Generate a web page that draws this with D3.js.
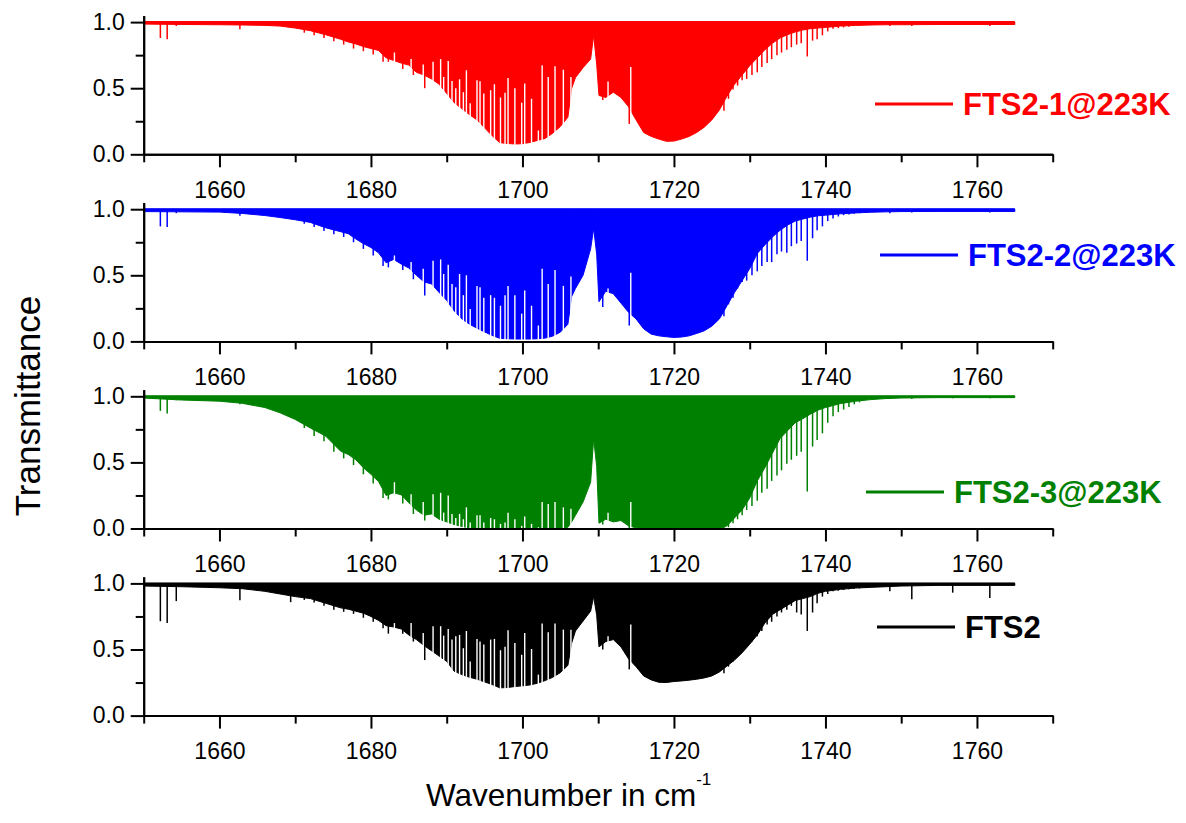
<!DOCTYPE html>
<html>
<head>
<meta charset="utf-8">
<script src="https://cdn.jsdelivr.net/npm/d3@7/dist/d3.min.js"></script>
<style>
  body { margin: 0; background: #ffffff; }
  text { font-family: "Liberation Sans", Arial, sans-serif; }
</style>
</head>
<body>
<div id="chart"></div>
<script>
// wavenumber grid (cm-1) on which the lower envelope of each spectrum was read
var waveGrid = [1650,1655,1660,1663,1666,1668,1670,1672,1674,1676,
  1677,1678,1679,1680,1681,1682,1683,1684,1685,1686,
  1687,1688,1689,1690,1691,1692,1693,1694,1695,1696,
  1697,1698,1699,1700,1701,1702,1703,1704,1705,1706,
  1706.5,1707,1708,1709,1709.4,1709.8,1710.1,1711,1712,1713,
  1714,1715,1716,1717,1718,1719,1720,1721,1722,1723,
  1724,1725,1726,1727,1728,1729,1730,1731,1732,1733,
  1734,1735,1736,1737,1738,1739,1740,1742,1744,1746,
  1748,1750,1755,1760,1765];

// lower envelope (transmittance) of every spectrum
var envelopeFts21 = [0.985,0.982,0.98,0.978,0.975,0.97,0.955,0.935,0.905,0.87,
  0.85,0.835,0.815,0.80,0.785,0.73,0.71,0.69,0.675,0.62,
  0.60,0.57,0.53,0.46,0.39,0.345,0.30,0.26,0.20,0.14,
  0.088,0.082,0.078,0.08,0.09,0.105,0.12,0.16,0.21,0.28,
  0.50,0.58,0.655,0.72,0.90,0.68,0.445,0.43,0.47,0.43,
  0.36,0.26,0.165,0.135,0.115,0.098,0.10,0.115,0.135,0.165,
  0.205,0.26,0.335,0.44,0.53,0.60,0.67,0.73,0.79,0.84,
  0.88,0.905,0.925,0.94,0.95,0.955,0.96,0.97,0.975,0.978,
  0.98,0.98,0.982,0.982,0.982];
var envelopeFts22 = [0.982,0.98,0.978,0.968,0.952,0.937,0.92,0.90,0.86,0.83,
  0.815,0.775,0.74,0.71,0.67,0.595,0.62,0.585,0.555,0.50,
  0.45,0.435,0.37,0.31,0.23,0.17,0.13,0.10,0.072,0.045,
  0.023,0.02,0.018,0.018,0.018,0.02,0.025,0.04,0.07,0.13,
  0.34,0.40,0.50,0.70,0.855,0.66,0.30,0.38,0.36,0.29,
  0.22,0.17,0.095,0.055,0.042,0.035,0.03,0.033,0.042,0.06,
  0.08,0.115,0.17,0.27,0.37,0.46,0.55,0.665,0.73,0.79,
  0.84,0.88,0.91,0.925,0.94,0.95,0.955,0.965,0.972,0.977,
  0.98,0.982,0.983,0.983,0.983];
var envelopeFts23 = [0.987,0.972,0.963,0.947,0.915,0.875,0.825,0.76,0.70,0.585,
  0.56,0.52,0.46,0.41,0.355,0.25,0.27,0.255,0.195,0.14,
  0.10,0.11,0.07,0.05,0.03,0.015,0.005,0,0,0,
  0,0,0,0,0,0,0,0,0,0.01,
  0.05,0.10,0.20,0.35,0.68,0.47,0.04,0.07,0.05,0.06,
  0.02,0.005,0,0,0,0,0,0,0,0,
  0,0,0,0.02,0.08,0.14,0.23,0.36,0.46,0.57,
  0.68,0.74,0.80,0.83,0.865,0.895,0.915,0.945,0.963,0.975,
  0.983,0.987,0.99,0.99,0.99];
var envelopeFts2 = [0.98,0.975,0.967,0.96,0.94,0.92,0.90,0.885,0.85,0.815,
  0.805,0.79,0.775,0.75,0.72,0.68,0.67,0.655,0.61,0.575,
  0.53,0.49,0.45,0.41,0.335,0.31,0.29,0.275,0.255,0.235,
  0.21,0.212,0.22,0.225,0.232,0.245,0.265,0.29,0.325,0.38,
  0.55,0.64,0.715,0.79,0.90,0.76,0.52,0.56,0.575,0.52,
  0.43,0.37,0.30,0.27,0.252,0.25,0.258,0.262,0.268,0.275,
  0.285,0.30,0.33,0.375,0.42,0.475,0.54,0.61,0.70,0.765,
  0.80,0.835,0.87,0.885,0.90,0.925,0.94,0.955,0.965,0.97,
  0.975,0.98,0.985,0.985,0.985];

// narrow windows between lines (white stripes): position and transmittance reached
var gapWavenumbers = [1683.1,1685.3,1686.9,1688.2,1689.2,1689.6,1690.2,1690.7,1691.2,1691.7,
  1692.2,1692.6,1693.1,1694.0,1694.4,1694.9,1695.8,1696.3,1697.1,1697.7,
  1698.1,1699.0,1699.9,1700.3,1701.2,1702.1,1702.6,1703.4,1704.3,1705.4,
  1706.4,1711.3,1714.3];
var gapTopsFts21 = [0.77,0.72,0.68,0.70,0.72,0.585,0.706,0.555,0.50,0.568,
  0.47,0.636,0.387,0.56,0.553,0.46,0.485,0.53,0.43,0.465,
  0.578,0.50,0.39,0.535,0.42,0.18,0.673,0.585,0.666,0.64,
  0.585,0.55,0.66];
var gapTopsFts22 = [0.65,0.60,0.55,0.61,0.62,0.51,0.58,0.435,0.41,0.51,
  0.35,0.50,0.245,0.42,0.41,0.33,0.35,0.33,0.27,0.35,
  0.42,0.35,0.21,0.385,0.27,0.12,0.55,0.435,0.54,0.42,
  0.49,0.40,0.52];
var gapTopsFts23 = [0.35,0.26,0.20,0.26,0.27,0.12,0.25,0.11,0.08,0.11,
  0.07,0.16,0.046,0.10,0.10,0.046,0.08,0.07,0.035,0.046,
  0.12,0.07,0.02,0.09,0.035,0.01,0.20,0.186,0.20,0.16,
  0.15,0.12,0.20];
var gapTopsFts2 = [0.70,0.70,0.625,0.676,0.676,0.605,0.656,0.575,0.60,0.61,
  0.51,0.64,0.41,0.58,0.56,0.537,0.575,0.58,0.494,0.52,
  0.646,0.55,0.46,0.625,0.504,0.31,0.696,0.63,0.696,0.65,
  0.65,0.60,0.69];

// single absorption lines standing out of the envelope: position and depth
var lineWavenumbers = [1652.2,1653.1,1654.3,1662.7,1669.4,1671.2,1672.5,1673.8,1675.1,1676.4,
  1677.7,1679.0,1680.3,1681.6,1682.3,1684.2,1685.6,1687.1,1710.6,1714.1,
  1726.6,1727.2,1727.8,1728.4,1729.0,1729.6,1730.3,1731.0,1731.6,1732.3,
  1732.9,1733.6,1734.2,1734.9,1735.5,1736.2,1736.8,1737.6,1738.3,1738.9,
  1739.6,1740.3,1741.0,1741.7,1742.4,1743.1,1743.8,1744.5,1748.5,1751.4,
  1756.8,1761.7];
var lineDepthsFts21 = [0.88,0.87,0.97,0.945,0.96,0.92,0.90,0.88,0.855,0.83,
  0.80,0.78,0.755,0.70,0.70,0.645,0.60,0.50,0.41,0.23,
  0.33,0.42,0.49,0.52,0.56,0.57,0.60,0.62,0.66,0.69,
  0.72,0.75,0.77,0.79,0.81,0.83,0.84,0.74,0.86,0.87,
  0.90,0.93,0.95,0.955,0.96,0.965,0.97,0.972,0.97,0.97,
  0.98,0.97];
var lineDepthsFts22 = [0.87,0.865,0.97,0.95,0.95,0.89,0.865,0.835,0.81,0.79,
  0.75,0.70,0.65,0.57,0.56,0.54,0.47,0.347,0.26,0.12,
  0.19,0.28,0.33,0.40,0.45,0.46,0.50,0.53,0.57,0.60,
  0.60,0.66,0.68,0.67,0.72,0.74,0.76,0.61,0.78,0.84,
  0.87,0.91,0.93,0.945,0.955,0.96,0.965,0.97,0.97,0.975,
  0.98,0.975];
var lineDepthsFts23 = [0.89,0.87,0.97,0.94,0.84,0.76,0.70,0.66,0.58,0.53,
  0.48,0.41,0.34,0.23,0.22,0.19,0.11,0.06,0.03,0.0,
  0.0,0.01,0.04,0.07,0.10,0.14,0.17,0.21,0.27,0.30,
  0.36,0.40,0.44,0.49,0.52,0.55,0.58,0.28,0.62,0.67,
  0.72,0.80,0.85,0.88,0.90,0.92,0.94,0.955,0.98,0.98,
  0.985,0.985];
var lineDepthsFts2 = [0.714,0.70,0.866,0.873,0.858,0.875,0.855,0.83,0.80,0.785,
  0.77,0.74,0.71,0.66,0.62,0.62,0.56,0.42,0.50,0.35,
  0.32,0.37,0.41,0.45,0.49,0.52,0.56,0.60,0.64,0.69,
  0.71,0.75,0.78,0.80,0.83,0.78,0.765,0.64,0.78,0.85,
  0.90,0.92,0.94,0.945,0.95,0.955,0.96,0.962,0.94,0.88,
  0.93,0.89];

var seriesNames = ["FTS2-1@223K", "FTS2-2@223K", "FTS2-3@223K", "FTS2"];
var seriesColors = ["#ff0000", "#0000ff", "#008000", "#000000"];
var xMajorTicks = [1660, 1680, 1700, 1720, 1740, 1760];
var xMinorTicks = [1650, 1670, 1690, 1710, 1730, 1750, 1770];
var yMajorTicks = [0.0, 0.5, 1.0];
var yMinorTicks = [0.25, 0.75];

var envelopes = [envelopeFts21, envelopeFts22, envelopeFts23, envelopeFts2];
var gapTops = [gapTopsFts21, gapTopsFts22, gapTopsFts23, gapTopsFts2];
var lineDepths = [lineDepthsFts21, lineDepthsFts22, lineDepthsFts23, lineDepthsFts2];

// layout
var svgWidth = 1186, svgHeight = 823;
var panelBottom = [154.3, 341.4, 528.5, 715.6];
var unitHeight = 132.2;
var legendPos = [{x: 875, y: 104}, {x: 880, y: 255}, {x: 866, y: 492}, {x: 877, y: 627}];

var svg = d3.select("#chart").append("svg")
    .attr("width", svgWidth)
    .attr("height", svgHeight);

var x = d3.scaleLinear().domain([1650, 1770]).range([143.7, 1052.7]);

/**
 * draws one stacked panel: spectrum, axes and legend entry
 */
function drawPanel(i) {
    var color = seriesColors[i];
    var bottom = panelBottom[i];
    var y = d3.scaleLinear().domain([0, 1.05]).range([bottom, bottom - 1.05 * unitHeight]);
    var g = svg.append("g").attr("class", "panel");

    var pts = waveGrid.map(function (w, j) { return [w, envelopes[i][j]]; });

    // filled band between 100% and the line minima
    var area = d3.area()
        .x(function (d) { return x(d[0]); })
        .y0(y(1.0))
        .y1(function (d) { return y(d[1]); });
    g.append("path").datum(pts)
        .attr("d", area)
        .attr("fill", color)
        .attr("stroke", color)
        .attr("stroke-width", 1);

    // baseline trace at 1.0
    g.append("line")
        .attr("x1", x(1650)).attr("x2", x(1765))
        .attr("y1", y(1.0)).attr("y2", y(1.0))
        .attr("stroke", color).attr("stroke-width", 2);

    // windows between lines
    g.selectAll("line.gap").data(gapWavenumbers).enter()
        .append("line")
        .attr("class", "gap")
        .attr("x1", function (d) { return x(d); })
        .attr("x2", function (d) { return x(d); })
        .attr("y1", function (d, j) { return y(gapTops[i][j]); })
        .attr("y2", y(0))
        .attr("stroke", "#ffffff")
        .attr("stroke-width", 1.4);

    // strong single lines
    g.selectAll("line.spike").data(lineWavenumbers).enter()
        .append("line")
        .attr("class", "spike")
        .attr("x1", function (d) { return x(d); })
        .attr("x2", function (d) { return x(d); })
        .attr("y1", y(1.0))
        .attr("y2", function (d, j) { return y(lineDepths[i][j]); })
        .attr("stroke", color)
        .attr("stroke-width", 1.5);

    // axes
    g.append("g").attr("transform", "translate(0," + y(0) + ")")
        .call(d3.axisBottom(x).tickValues(xMajorTicks).tickSize(13).tickSizeOuter(0)
            .tickPadding(14).tickFormat(d3.format("d")));
    g.append("g").attr("transform", "translate(0," + y(0) + ")")
        .call(d3.axisBottom(x).tickValues(xMinorTicks).tickSize(8).tickSizeOuter(0).tickFormat(""));
    g.append("g").attr("transform", "translate(" + x(1650) + ",0)")
        .call(d3.axisLeft(y).tickValues(yMajorTicks).tickSize(13).tickSizeOuter(0)
            .tickPadding(6).tickFormat(d3.format(".1f")));
    g.append("g").attr("transform", "translate(" + x(1650) + ",0)")
        .call(d3.axisLeft(y).tickValues(yMinorTicks).tickSize(8).tickSizeOuter(0).tickFormat(""));

    g.selectAll(".domain, .tick line").attr("stroke", "#000").attr("stroke-width", 2);
    g.selectAll(".tick text").attr("font-size", 23).attr("fill", "#000")
        .style("font-family", "'Liberation Sans', Arial, sans-serif");

    // legend
    var lg = legendPos[i];
    g.append("line")
        .attr("x1", lg.x).attr("x2", lg.x + 78)
        .attr("y1", lg.y).attr("y2", lg.y)
        .attr("stroke", color).attr("stroke-width", 3);
    g.append("text")
        .attr("x", lg.x + 88).attr("y", lg.y)
        .attr("dy", "0.36em")
        .attr("font-size", 31)
        .attr("font-weight", "bold")
        .attr("fill", color)
        .text(seriesNames[i]);
}

for (var i = 0; i < seriesNames.length; i++) {
    drawPanel(i);
}

// axis titles
svg.append("text")
    .attr("transform", "translate(40,406) rotate(-90)")
    .attr("text-anchor", "middle")
    .attr("font-size", 35)
    .text("Transmittance");

var xTitle = svg.append("text")
    .attr("x", 426).attr("y", 806)
    .attr("font-size", 31.5)
    .text("Wavenumber in cm");
xTitle.append("tspan")
    .attr("dy", -21)
    .attr("font-size", 17)
    .text("-1");
</script>
</body>
</html>
